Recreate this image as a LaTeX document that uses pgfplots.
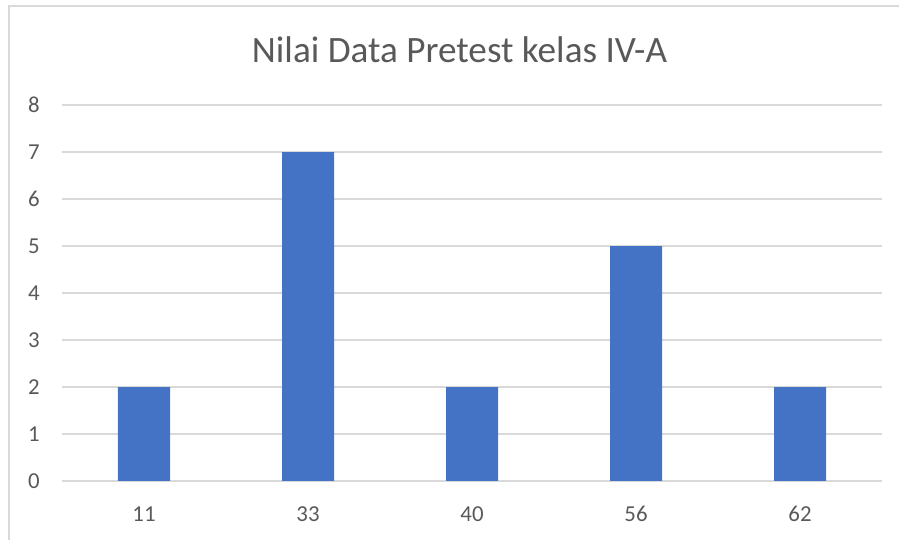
\documentclass[border=0pt]{standalone}
\usepackage{pgfplots}
\pgfplotsset{compat=1.18}
\usepackage{fontspec}
\setmainfont{Carlito}
\definecolor{txt}{HTML}{595959}
\definecolor{grd}{HTML}{D9D9D9}
\definecolor{bar}{HTML}{4472C4}
\begin{document}
\begin{tikzpicture}
\useasboundingbox (0,0) rectangle (449.5pt,270pt);
\draw[grd, line width=0.8pt] (4.5pt,-2pt) -- (4.5pt,267pt) -- (452pt,267pt);
\begin{axis}[
  at={(31pt,29.5pt)}, anchor=south west,
  scale only axis, width=410pt, height=188pt,
  xmin=-0.5, xmax=4.5, ymin=0, ymax=8,
  ytick={0,1,...,8},
  xtick={0,1,2,3,4},
  xticklabels={11,33,40,56,62},
  ymajorgrids, grid style={grd, line width=0.6pt},
  axis x line*=bottom, axis y line*=left,
  y axis line style={draw=none},
  x axis line style={grd, line width=0.8pt, -},
  major tick length=0pt,
  tick label style={font=\fontsize{11.4}{13}\selectfont, text=txt},
  /pgf/number format/assume math mode=true,
  yticklabel style={anchor=east, inner sep=0pt, xshift=-11pt},
  xticklabel style={anchor=base, inner sep=0pt, yshift=-20pt},
  clip=false,
]
\addplot[ybar, bar width=26pt, fill=bar, draw=none] coordinates {(0,2) (1,7) (2,2) (3,5) (4,2)};
\end{axis}
\node[anchor=base, inner sep=0pt, text=txt, font=\fontsize{18.6}{21}\selectfont] at (229.75pt,238.5pt) {Nilai Data Pretest kelas IV-A};
\end{tikzpicture}
\end{document}
